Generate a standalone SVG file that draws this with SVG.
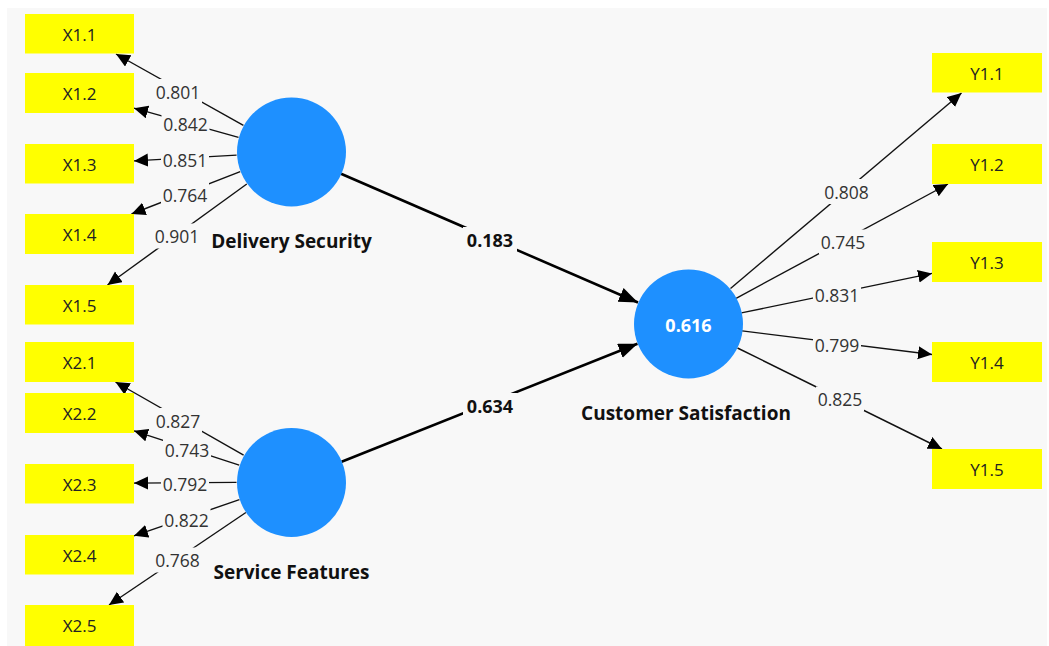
<svg xmlns="http://www.w3.org/2000/svg" width="1049" height="646" viewBox="0 0 1049 646">
  <style>
    .box { fill: #ffff00; }
    .btxt { font-family: "Open Sans", "Liberation Sans", sans-serif; font-size: 17px; fill: #222; text-anchor: middle; dominant-baseline: central; }
    .lv { fill: #1e90ff; }
    .lvname { font-family: "Open Sans", "Liberation Sans", sans-serif; font-size: 19px; font-weight: bold; fill: #111; text-anchor: middle; dominant-baseline: central; }
    .load { stroke: #111; stroke-width: 1.4; fill: none; marker-end: url(#ah); }
    .path { stroke: #000; stroke-width: 2.6; fill: none; marker-end: url(#ahb); }
    .ltxt { font-family: "Open Sans", "Liberation Sans", sans-serif; font-size: 17.5px; fill: #333; text-anchor: middle; dominant-baseline: central; }
    .ptxt { font-family: "Open Sans", "Liberation Sans", sans-serif; font-size: 18px; font-weight: bold; fill: #111; text-anchor: middle; dominant-baseline: central; }
    .r2 { font-family: "Open Sans", "Liberation Sans", sans-serif; font-size: 18px; font-weight: bold; fill: #fff; text-anchor: middle; dominant-baseline: central; }
  </style>
  <defs>
    <marker id="ah" markerUnits="userSpaceOnUse" markerWidth="15" markerHeight="14" refX="14" refY="6.5" orient="auto">
      <path d="M0,0 L14,6.5 L0,13 z" fill="#000"/>
    </marker>
    <marker id="ahb" markerUnits="userSpaceOnUse" markerWidth="20" markerHeight="16" refX="19" refY="7.5" orient="auto">
      <path d="M0,0 L19,7.5 L0,15 z" fill="#000"/>
    </marker>
    <mask id="gaps" maskUnits="userSpaceOnUse" x="0" y="0" width="1049" height="646">
      <rect x="0" y="0" width="1049" height="646" fill="#fff"/>
      <g fill="#000">
        <rect x="154" y="79" width="48" height="25"/>
        <rect x="161.5" y="111.5" width="48" height="25"/>
        <rect x="161" y="147.5" width="48" height="25"/>
        <rect x="161" y="182.5" width="48" height="25"/>
        <rect x="153" y="223.5" width="48" height="25"/>
        <rect x="154" y="408" width="48" height="25"/>
        <rect x="163" y="437.5" width="48" height="25"/>
        <rect x="161" y="471.5" width="48" height="25"/>
        <rect x="162.5" y="507" width="48" height="25"/>
        <rect x="153.5" y="547.5" width="48" height="25"/>
        <rect x="822.5" y="179" width="48" height="25"/>
        <rect x="819" y="229.5" width="48" height="25"/>
        <rect x="813" y="282.5" width="48" height="25"/>
        <rect x="813" y="332.5" width="48" height="25"/>
        <rect x="816" y="386.5" width="48" height="25"/>
        <rect x="463" y="227" width="54" height="26"/>
        <rect x="463" y="393" width="54" height="26"/>
      </g>
    </mask>
  </defs>

  <rect x="0" y="0" width="1049" height="646" fill="#ffffff"/>
  <rect x="7" y="8" width="1040" height="638" fill="#f8f8f8"/>

  <g id="connectors">
    <g mask="url(#gaps)">
      <path class="load" d="M243.4,125.4 L116,54"/>
      <path class="load" d="M238.5,137.4 L134,108.2"/>
      <path class="load" d="M236.6,155.1 L134,160.9"/>
      <path class="load" d="M240.2,171.7 L131.5,214"/>
      <path class="load" d="M246.8,184 L107.5,285"/>
      <path class="load" d="M243.6,455.1 L115.5,382"/>
      <path class="load" d="M239.2,465.1 L134,430.8"/>
      <path class="load" d="M236.5,482.4 L134,483.1"/>
      <path class="load" d="M239.4,499.7 L134,535.8"/>
      <path class="load" d="M245.9,512.5 L109,605"/>
      <path class="load" d="M730.5,288.5 L961.5,93"/>
      <path class="load" d="M736.1,298.3 L948,184"/>
      <path class="load" d="M741.4,312.9 L932,273.4"/>
      <path class="load" d="M742.1,330.9 L932,354.5"/>
      <path class="load" d="M737.5,348 L942,449"/>
      <path class="path" d="M341,173.7 L638,302.5"/>
      <path class="path" d="M341.6,461.8 L637.5,343.8"/>
    </g>
    <text class="ltxt" x="178" y="91.5">0.801</text>
    <text class="ltxt" x="185.5" y="124">0.842</text>
    <text class="ltxt" x="185" y="160">0.851</text>
    <text class="ltxt" x="185" y="195">0.764</text>
    <text class="ltxt" x="177" y="236">0.901</text>
    <text class="ltxt" x="178" y="420.5">0.827</text>
    <text class="ltxt" x="187" y="450">0.743</text>
    <text class="ltxt" x="185" y="484">0.792</text>
    <text class="ltxt" x="186.5" y="519.5">0.822</text>
    <text class="ltxt" x="177.5" y="560">0.768</text>
    <text class="ltxt" x="846.5" y="191.5">0.808</text>
    <text class="ltxt" x="843" y="242">0.745</text>
    <text class="ltxt" x="837" y="295">0.831</text>
    <text class="ltxt" x="837" y="345">0.799</text>
    <text class="ltxt" x="840" y="399">0.825</text>
    <text class="ptxt" x="490" y="240">0.183</text>
    <text class="ptxt" x="490" y="406">0.634</text>
  </g>

  <g id="X1.1"><rect class="box" x="25" y="14" width="109" height="39.5"/><text class="btxt" x="79.5" y="34">X1.1</text></g>
  <g id="X1.2"><rect class="box" x="25" y="73" width="109" height="40"/><text class="btxt" x="79.5" y="93">X1.2</text></g>
  <g id="X1.3"><rect class="box" x="25" y="144" width="109" height="39.5"/><text class="btxt" x="79.5" y="164">X1.3</text></g>
  <g id="X1.4"><rect class="box" x="25" y="214" width="109" height="40"/><text class="btxt" x="79.5" y="234">X1.4</text></g>
  <g id="X1.5"><rect class="box" x="25" y="285" width="109" height="39.5"/><text class="btxt" x="79.5" y="305">X1.5</text></g>

  <g id="X2.1"><rect class="box" x="25" y="342" width="109" height="40"/><text class="btxt" x="79.5" y="362">X2.1</text></g>
  <g id="X2.2"><rect class="box" x="25" y="393" width="109" height="40"/><text class="btxt" x="79.5" y="413">X2.2</text></g>
  <g id="X2.3"><rect class="box" x="25" y="464" width="109" height="39.5"/><text class="btxt" x="79.5" y="484">X2.3</text></g>
  <g id="X2.4"><rect class="box" x="25" y="535" width="109" height="39.5"/><text class="btxt" x="79.5" y="555">X2.4</text></g>
  <g id="X2.5"><rect class="box" x="25" y="605" width="109" height="41"/><text class="btxt" x="79.5" y="625">X2.5</text></g>

  <g id="Y1.1"><rect class="box" x="932" y="53" width="110" height="39.5"/><text class="btxt" x="987" y="73">Y1.1</text></g>
  <g id="Y1.2"><rect class="box" x="932" y="144" width="110" height="40"/><text class="btxt" x="987" y="164">Y1.2</text></g>
  <g id="Y1.3"><rect class="box" x="932" y="242" width="110" height="40"/><text class="btxt" x="987" y="262">Y1.3</text></g>
  <g id="Y1.4"><rect class="box" x="932" y="342" width="110" height="40"/><text class="btxt" x="987" y="362">Y1.4</text></g>
  <g id="Y1.5"><rect class="box" x="932" y="449" width="110" height="40"/><text class="btxt" x="987" y="469">Y1.5</text></g>

  <g id="DeliverySecurity">
    <circle class="lv" cx="291.5" cy="152" r="54.5"/>
    <text class="lvname" x="291.5" y="241">Delivery Security</text>
  </g>
  <g id="ServiceFeatures">
    <circle class="lv" cx="291.5" cy="482.5" r="54.5"/>
    <text class="lvname" x="291.5" y="572">Service Features</text>
  </g>
  <g id="CustomerSatisfaction">
    <circle class="lv" cx="688.5" cy="324" r="54.5"/>
    <text class="r2" x="688.5" y="325">0.616</text>
    <text class="lvname" x="686" y="413">Customer Satisfaction</text>
  </g>
</svg>
